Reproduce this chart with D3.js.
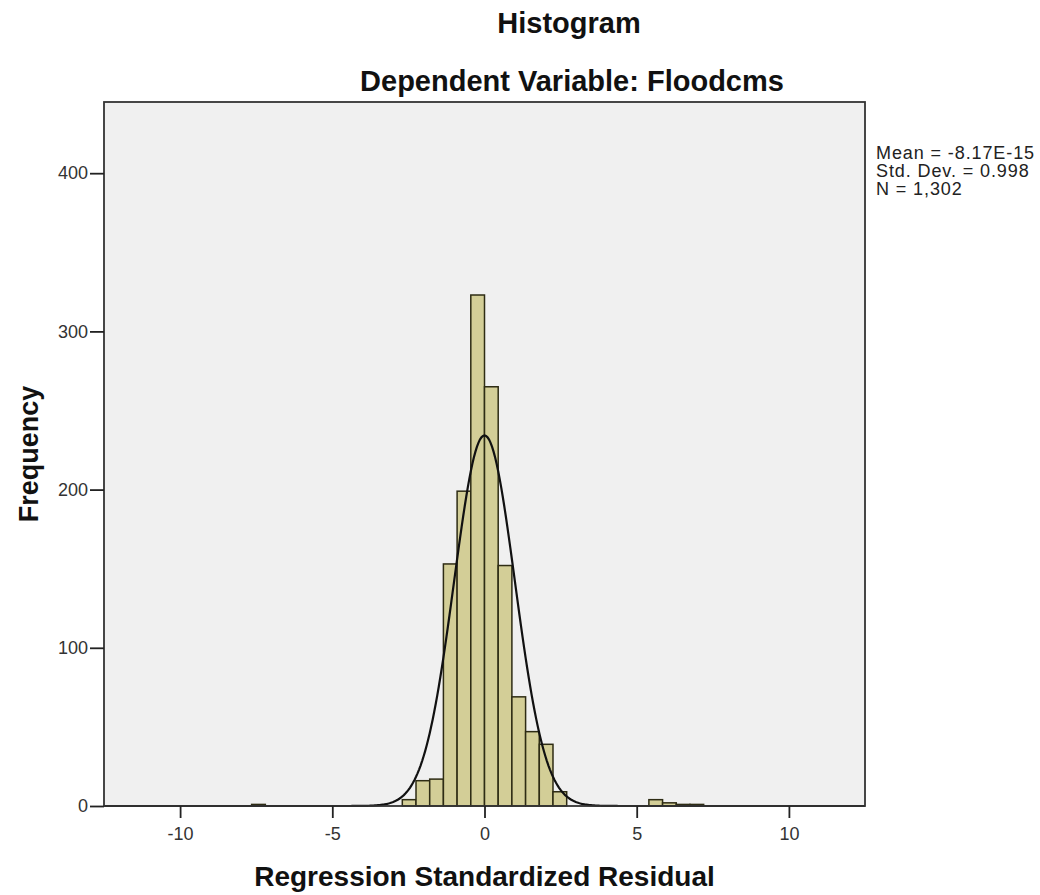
<!DOCTYPE html>
<html lang="en">
<head>
    <meta charset="UTF-8">
    <title>Histogram - Regression Standardized Residual</title>
    <script src="https://d3js.org/d3.v7.min.js"></script>
    <style>
        body { margin: 0; background: #fff; }
        svg { display: block; font-family: "Liberation Sans", Arial, sans-serif; }
    </style>
</head>
<body>
    <svg id="chart" width="1040" height="895"></svg>
    <script>
        // Bin edges (left edge of each bin, width 0.45) and counts
        const binWidth = 0.45;
        const binStarts = [-7.65, -2.7, -2.25, -1.8, -1.35, -0.9, -0.45, 0, 0.45, 0.9, 1.35, 1.8, 2.25, 5.4, 5.85, 6.3, 6.75];
        const binCounts = [1, 4, 16, 17, 153, 199, 323, 265, 152, 69, 47, 39, 9, 4, 2, 1, 1];

        const xTicks = [-10, -5, 0, 5, 10];
        const yTicks = [0, 100, 200, 300, 400];

        const stats = { mean: -8.17e-15, sd: 0.998, n: 1302 };
        const legendLines = ["Mean = -8.17E-15", "Std. Dev. = 0.998", "N = 1,302"];

        const plot = { left: 104, right: 865, top: 102, bottom: 806 };

        const svg = d3.select("#chart");

        const x = d3.scaleLinear().domain([-12.5, 12.5]).range([plot.left, plot.right]);
        const y = d3.scaleLinear().domain([0, 445]).range([plot.bottom, plot.top]);

        // Plot background
        svg.append("rect")
            .attr("x", plot.left).attr("y", plot.top)
            .attr("width", plot.right - plot.left).attr("height", plot.bottom - plot.top)
            .attr("fill", "#f0f0f0");

        // Bars
        const bins = binStarts.map((s, i) => ({ x0: s, x1: s + binWidth, count: binCounts[i] }));
        svg.append("g")
            .selectAll("rect")
            .data(bins)
            .join("rect")
            .attr("x", d => x(d.x0))
            .attr("y", d => y(d.count))
            .attr("width", d => x(d.x1) - x(d.x0))
            .attr("height", d => y(0) - y(d.count))
            .attr("fill", "#d3ce97")
            .attr("stroke", "#2e2c14")
            .attr("stroke-width", 1.5);

        // Normal curve scaled to the counts
        const scale = stats.n * binWidth / (stats.sd * Math.sqrt(2 * Math.PI));
        const curvePts = d3.range(-12.5, 12.5001, 0.05).map(v => [v, scale * Math.exp(-0.5 * Math.pow((v - stats.mean) / stats.sd, 2))]);
        svg.append("path")
            .datum(curvePts)
            .attr("fill", "none")
            .attr("stroke", "#111")
            .attr("stroke-width", 2.2)
            .attr("d", d3.line().x(d => x(d[0])).y(d => y(d[1])));

        // Frame
        svg.append("rect")
            .attr("x", plot.left).attr("y", plot.top)
            .attr("width", plot.right - plot.left).attr("height", plot.bottom - plot.top)
            .attr("fill", "none")
            .attr("stroke", "#333")
            .attr("stroke-width", 1.8);

        // Axes
        const xAxis = svg.append("g")
            .attr("transform", "translate(0," + plot.bottom + ")")
            .call(d3.axisBottom(x).tickValues(xTicks).tickSize(12).tickSizeOuter(0).tickPadding(9));
        const yAxis = svg.append("g")
            .attr("transform", "translate(" + plot.left + ",0)")
            .call(d3.axisLeft(y).tickValues(yTicks).tickSize(14).tickSizeOuter(0).tickPadding(2));
        [xAxis, yAxis].forEach(a => {
            a.select(".domain").remove();
            a.selectAll("line").attr("stroke", "#222").attr("stroke-width", 1.8);
            a.selectAll("text")
                .attr("fill", "#333")
                .style("font-family", "'Liberation Sans', Arial, sans-serif")
                .style("font-size", "18px")
                .text(d => d < 0 ? "-" + Math.abs(d) : d);
        });

        // Titles
        svg.append("text")
            .attr("x", 569).attr("y", 33)
            .attr("text-anchor", "middle")
            .attr("font-size", 29).attr("font-weight", "bold").attr("fill", "#111")
            .text("Histogram");
        svg.append("text")
            .attr("x", 572).attr("y", 91)
            .attr("text-anchor", "middle")
            .attr("font-size", 29).attr("font-weight", "bold").attr("fill", "#111")
            .text("Dependent Variable: Floodcms");
        svg.append("text")
            .attr("x", (plot.left + plot.right) / 2).attr("y", 886)
            .attr("text-anchor", "middle")
            .attr("font-size", 28).attr("font-weight", "bold").attr("fill", "#111")
            .text("Regression Standardized Residual");
        svg.append("text")
            .attr("transform", "translate(38," + ((plot.top + plot.bottom) / 2) + ") rotate(-90)")
            .attr("text-anchor", "middle")
            .attr("font-size", 27).attr("font-weight", "bold").attr("fill", "#111")
            .text("Frequency");

        // Statistics legend
        svg.append("g")
            .selectAll("text")
            .data(legendLines)
            .join("text")
            .attr("x", 876)
            .attr("y", (d, i) => 159 + i * 18)
            .attr("font-size", 18).attr("letter-spacing", 0.9).attr("fill", "#222")
            .text(d => d);
    </script>
</body>
</html>
